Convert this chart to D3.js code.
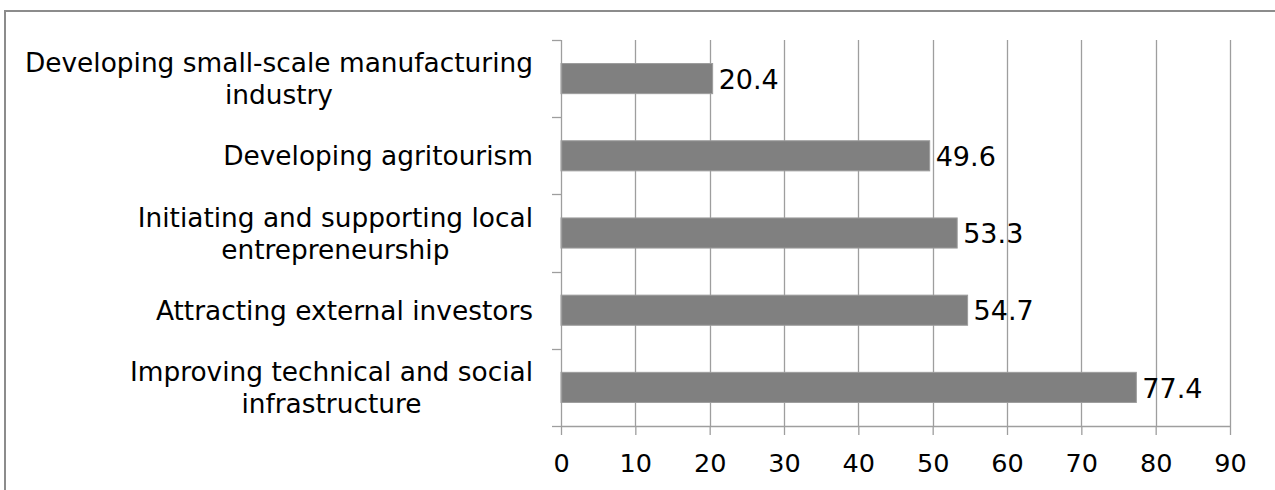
<!DOCTYPE html>
<html>
<head>
<meta charset="utf-8">
<script src="https://cdn.jsdelivr.net/npm/d3@7"></script>
<style>
  html, body { margin: 0; padding: 0; background: #fff; }
  svg { display: block; }
  text { font-family: "DejaVu Sans", Verdana, sans-serif; fill: #000; }
</style>
</head>
<body>
<svg id="chart" width="1275" height="490"></svg>
<script>
// Measures ranked by share of respondents (%)
const categories = [
  "Developing small-scale manufacturing industry",
  "Developing agritourism",
  "Initiating and supporting local entrepreneurship",
  "Attracting external investors",
  "Improving technical and social infrastructure"
];
const values = [20.4, 49.6, 53.3, 54.7, 77.4];
const xTicks = [0, 10, 20, 30, 40, 50, 60, 70, 80, 90];

const W = 1275, H = 490;
const plot = { left: 561, right: 1230, top: 40, bottom: 426 };
const gridColor = "#9e9e9e";

const svg = d3.select("#chart");

// outer frame (runs off the right and bottom edges)
svg.append("rect")
  .attr("x", 5).attr("y", 11)
  .attr("width", W + 20).attr("height", H + 20)
  .attr("fill", "#fff")
  .attr("stroke", "#8c8c8c").attr("stroke-width", 2);

const x = d3.scaleLinear().domain([0, 90]).range([plot.left, plot.right]);
const y = d3.scaleBand().domain(categories)
  .range([plot.top, plot.bottom])
  .paddingInner(0.61).paddingOuter(0.305);

// vertical gridlines
svg.append("g")
  .selectAll("line")
  .data(xTicks.filter(d => d > 0))
  .join("line")
  .attr("x1", d => Math.round(x(d)) + 0.5).attr("x2", d => Math.round(x(d)) + 0.5)
  .attr("y1", plot.top).attr("y2", plot.bottom)
  .attr("stroke", gridColor).attr("stroke-width", 1.3);

// bars
svg.append("g")
  .selectAll("rect")
  .data(categories)
  .join("rect")
  .attr("x", x(0))
  .attr("y", d => y(d))
  .attr("width", (d, i) => x(values[i]) - x(0))
  .attr("height", y.bandwidth())
  .attr("fill", "#808080")
  .attr("stroke", "#9c9c9c").attr("stroke-width", 1);

// value labels
svg.append("g")
  .selectAll("text")
  .data(categories)
  .join("text")
  .attr("x", (d, i) => x(values[i]) + 6)
  .attr("y", d => y(d) + y.bandwidth() / 2)
  .attr("dy", "0.38em")
  .style("font-size", "27px")
  .text((d, i) => values[i].toFixed(1));

// x axis
const xAxis = d3.axisBottom(x).tickValues(xTicks).tickSize(9).tickSizeOuter(0).tickPadding(19);
const gx = svg.append("g").attr("transform", `translate(0,${plot.bottom})`).call(xAxis);
gx.select(".domain").attr("stroke", gridColor).attr("stroke-width", 1.3);
gx.selectAll(".tick line").attr("stroke", gridColor).attr("stroke-width", 1.3);
gx.selectAll(".tick text").style("font-size", "25.5px").attr("fill", "#000");

// y axis: ticks at band boundaries
svg.append("line")
  .attr("x1", plot.left + 0.5).attr("x2", plot.left + 0.5)
  .attr("y1", plot.top).attr("y2", plot.bottom)
  .attr("stroke", gridColor).attr("stroke-width", 1.3);
const step = y.step();
const bounds = categories.map(d => y(d) - y.paddingInner() * step / 2).concat([plot.bottom]);
svg.append("g")
  .selectAll("line")
  .data(bounds)
  .join("line")
  .attr("x1", plot.left - 9).attr("x2", plot.left)
  .attr("y1", d => Math.round(d) + 0.5).attr("y2", d => Math.round(d) + 0.5)
  .attr("stroke", gridColor).attr("stroke-width", 1.3);

// category labels, wrapped and centred within a right-aligned block
const labelFont = 26.4, lineGap = 32, maxWidth = 530, labelRight = 533;
const gl = svg.append("g");
categories.forEach(cat => {
  const words = cat.split(" ");
  const probe = gl.append("text").style("font-size", labelFont + "px");
  const lines = [];
  let cur = "";
  words.forEach(w => {
    const test = cur ? cur + " " + w : w;
    probe.text(test);
    if (probe.node().getComputedTextLength() > maxWidth && cur) {
      lines.push(cur); cur = w;
    } else cur = test;
  });
  lines.push(cur);
  const widths = lines.map(l => { probe.text(l); return probe.node().getComputedTextLength(); });
  probe.remove();
  const blockW = d3.max(widths);
  const cx = labelRight - blockW / 2;
  const cy = y(cat) + y.bandwidth() / 2;
  const t = gl.append("text")
    .attr("text-anchor", "middle")
    .style("font-size", labelFont + "px");
  lines.forEach((l, i) => {
    t.append("tspan")
      .attr("x", cx)
      .attr("y", cy + (i - (lines.length - 1) / 2) * lineGap)
      .attr("dy", "0.36em")
      .text(l);
  });
});
</script>
</body>
</html>
